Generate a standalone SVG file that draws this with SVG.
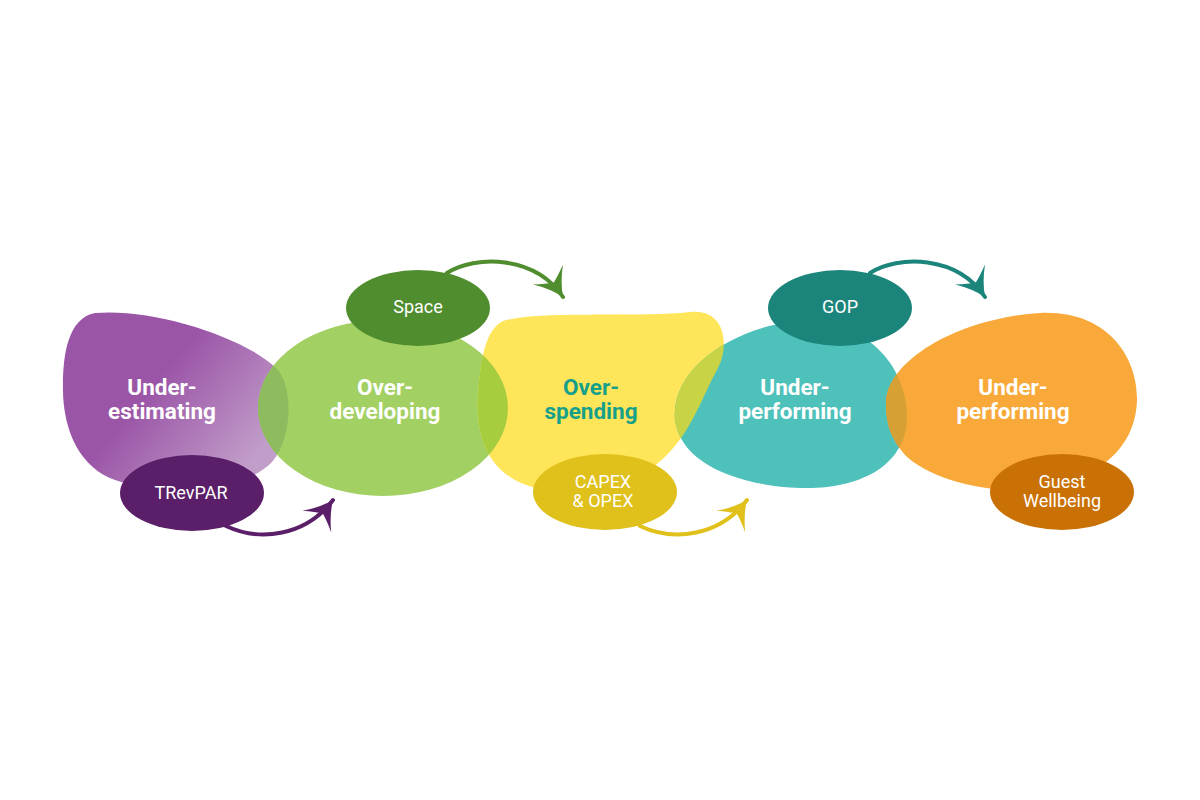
<svg xmlns="http://www.w3.org/2000/svg" xmlns:xlink="http://www.w3.org/1999/xlink" width="1200" height="800" viewBox="0 0 1200 800">
<style>
.big{font-family:Roboto,"Liberation Sans",sans-serif;font-weight:bold;font-size:22.5px;fill:#ffffff;text-anchor:middle}
.small{font-family:Roboto,"Liberation Sans",sans-serif;font-size:18px;fill:#ffffff;text-anchor:middle}
.arrow{fill:none;stroke-width:4;stroke-linecap:round}
</style>
<defs>
<linearGradient id="gPurple" gradientUnits="userSpaceOnUse" x1="170" y1="365" x2="265" y2="445">
<stop offset="0" stop-color="#9B55A7"/>
<stop offset="1" stop-color="#C19DC9"/>
</linearGradient>
<path id="shPurple" d="M95,313 C150,308 240,335 275,367 C295,385 292,440 272,462 C240,495 160,495 115,480 C80,468 62,430 63,385 C63,355 68,318 95,313 Z"/>
<ellipse id="shGreen" cx="383" cy="408" rx="125" ry="88"/>
<path id="shYellow" d="M503,321 C540,310 640,318 690,312 C725,308 730,345 718,368 C700,400 690,440 652,468 C612,495 552,500 515,480 C482,462 476,425 478,395 C481,355 486,330 503,321 Z"/>
<path id="shTeal" d="M675,420 C670,370 730,330 790,322 C860,315 905,360 907,415 C908,465 860,490 800,488 C730,485 680,460 675,420 Z"/>
<path id="shOrange" d="M886,405 C885,360 960,318 1040,313 C1110,310 1138,360 1137,400 C1136,440 1110,470 1060,485 C1000,500 930,480 905,455 C892,440 886,425 886,405 Z"/>
<clipPath id="cGreen"><use xlink:href="#shGreen"/></clipPath>
<clipPath id="cYellow"><use xlink:href="#shYellow"/></clipPath>
<clipPath id="cTeal"><use xlink:href="#shTeal"/></clipPath>
<clipPath id="cOrange"><use xlink:href="#shOrange"/></clipPath>
<path id="headShape" d="M0,0 Q-14,-6 -27,-18 Q-20,-7 -17,0 Q-20,7 -27,18 Q-14,6 0,0 Z"/>
<marker id="mPurple" viewBox="-30 -20 32 40" refX="0" refY="0" markerWidth="32" markerHeight="40" markerUnits="userSpaceOnUse" orient="auto"><use xlink:href="#headShape" fill="#5B1F69"/></marker>
<marker id="mGreen" viewBox="-30 -20 32 40" refX="0" refY="0" markerWidth="32" markerHeight="40" markerUnits="userSpaceOnUse" orient="auto"><use xlink:href="#headShape" fill="#4F8D2E"/></marker>
<marker id="mYellow" viewBox="-30 -20 32 40" refX="0" refY="0" markerWidth="32" markerHeight="40" markerUnits="userSpaceOnUse" orient="auto"><use xlink:href="#headShape" fill="#E0C01B"/></marker>
<marker id="mTeal" viewBox="-30 -20 32 40" refX="0" refY="0" markerWidth="32" markerHeight="40" markerUnits="userSpaceOnUse" orient="auto"><use xlink:href="#headShape" fill="#1B857C"/></marker>
</defs>
<rect width="1200" height="800" fill="#ffffff"/>

<g id="blobs">
<use id="blob-underestimating" xlink:href="#shPurple" fill="url(#gPurple)"/>
<use id="blob-overdeveloping" xlink:href="#shGreen" fill="#A3D063"/>
<use id="blob-overspending" xlink:href="#shYellow" fill="#FEE55A"/>
<use id="blob-underperforming1" xlink:href="#shTeal" fill="#4FC1BB"/>
<use id="blob-underperforming2" xlink:href="#shOrange" fill="#F9A93A"/>
</g>
<g id="overlaps">
<use xlink:href="#shPurple" clip-path="url(#cGreen)" fill="#8FBB5F"/>
<use xlink:href="#shGreen" clip-path="url(#cYellow)" fill="#A6CD3E"/>
<use xlink:href="#shYellow" clip-path="url(#cTeal)" fill="#C8D445"/>
<use xlink:href="#shTeal" clip-path="url(#cOrange)" fill="#D6A035"/>
</g>

<g id="connectors">
<path class="arrow" d="M226,526 C260,542 306,536 333,500" stroke="#5B1F69" marker-end="url(#mPurple)"/>
<path class="arrow" d="M447,273 C475,255 535,255 563,297" stroke="#4F8D2E" marker-end="url(#mGreen)"/>
<path class="arrow" d="M640,526 C674,542 720,536 747,500" stroke="#E0C01B" marker-end="url(#mYellow)"/>
<path class="arrow" d="M870,273 C898,255 957,255 985,297" stroke="#1B857C" marker-end="url(#mTeal)"/>
</g>

<g id="node-underestimating">
<text class="big" x="162" y="395">Under-</text>
<text class="big" x="162" y="419">estimating</text>
</g>
<g id="node-trevpar">
<ellipse cx="192" cy="493" rx="72" ry="38" fill="#5B1F69"/>
<text class="small" x="191" y="499">TRevPAR</text>
</g>
<g id="node-overdeveloping">
<text class="big" x="385" y="395">Over-</text>
<text class="big" x="385" y="419">developing</text>
</g>
<g id="node-space">
<ellipse cx="418" cy="308" rx="72" ry="38" fill="#4F8D2E"/>
<text class="small" x="418" y="313">Space</text>
</g>
<g id="node-overspending">
<text class="big" x="591" y="395" style="fill:#16A08A">Over-</text>
<text class="big" x="591" y="419" style="fill:#16A08A">spending</text>
</g>
<g id="node-capex">
<ellipse cx="605" cy="492" rx="72" ry="38" fill="#E0C01B"/>
<text class="small" x="603" y="488">CAPEX</text>
<text class="small" x="603" y="507">&amp; OPEX</text>
</g>
<g id="node-underperforming1">
<text class="big" x="795" y="395">Under-</text>
<text class="big" x="795" y="419">performing</text>
</g>
<g id="node-gop">
<ellipse cx="840" cy="308" rx="72" ry="38" fill="#1B857C"/>
<text class="small" x="840" y="313">GOP</text>
</g>
<g id="node-underperforming2">
<text class="big" x="1013" y="395">Under-</text>
<text class="big" x="1013" y="419">performing</text>
</g>
<g id="node-guest">
<ellipse cx="1062" cy="492" rx="72" ry="38" fill="#C97105"/>
<text class="small" x="1062" y="488">Guest</text>
<text class="small" x="1062" y="507">Wellbeing</text>
</g>
</svg>
